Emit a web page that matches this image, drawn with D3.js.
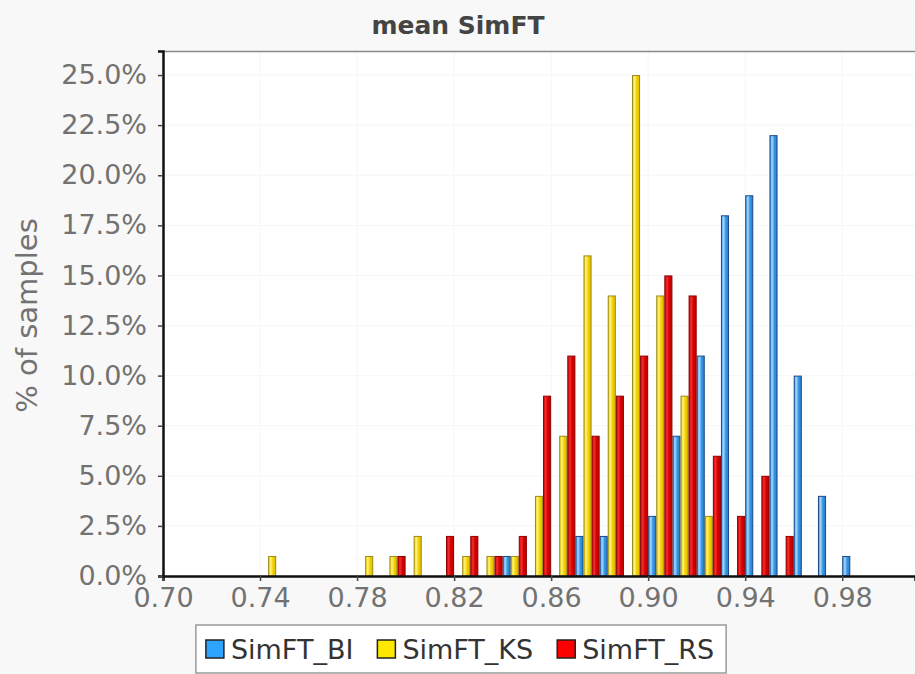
<!DOCTYPE html>
<html>
<head>
<meta charset="utf-8">
<script src="https://cdn.jsdelivr.net/npm/d3@7"></script>
<style>
  html, body { margin: 0; padding: 0; background: #f8f8f8; }
  svg { display: block; font-family: "DejaVu Sans", Verdana, sans-serif; }
</style>
</head>
<body>
<div id="chart"></div>
<script>
"use strict";

/* ── Data: lower edge of each 0.01 bin, and % of samples per series ── */
const binStarts = [0.74, 0.75, 0.76, 0.77, 0.78, 0.79, 0.80, 0.81, 0.82, 0.83,
                   0.84, 0.85, 0.86, 0.87, 0.88, 0.89, 0.90, 0.91, 0.92, 0.93,
                   0.94, 0.95, 0.96, 0.97, 0.98];
const binWidth  = 0.01;
const seriesNames = ["SimFT_BI", "SimFT_KS", "SimFT_RS"];
const valuesBI = [0, 0, 0, 0, 0, 0, 0, 0, 0, 0, 1, 0, 0, 2, 2, 0, 3, 7, 11, 18, 19, 22, 10, 4, 1];
const valuesKS = [1, 0, 0, 0, 1, 1, 2, 0, 1, 1, 1, 4, 7, 16, 14, 25, 14, 9, 3, 0, 0, 0, 0, 0, 0];
const valuesRS = [0, 0, 0, 0, 0, 1, 0, 2, 2, 1, 2, 9, 11, 7, 9, 11, 15, 14, 6, 3, 5, 2, 0, 0, 0];
const xTicks = [0.70, 0.74, 0.78, 0.82, 0.86, 0.90, 0.94, 0.98];
const yTicks = [0, 2.5, 5, 7.5, 10, 12.5, 15, 17.5, 20, 22.5, 25];

const W = 915, H = 674;
const plot = { left: 163, top: 51, right: 915, bottom: 576 };

const svg = d3.select("#chart").append("svg")
  .attr("width", W).attr("height", H);

/* ── Gradients, JFreeChart style ── */
const palette = {
  SimFT_BI: { base: "#3797e6", light: "#a6d8ff", dark: "#2a7cc8", stroke: "#1d4a84", swatch: "#2fa4ff" },
  SimFT_KS: { base: "#f2d200", light: "#fff27c", dark: "#e0bc00", stroke: "#9a8a1a", swatch: "#ffe800" },
  SimFT_RS: { base: "#d80000", light: "#ee3030", dark: "#c00000", stroke: "#8c0000", swatch: "#ff0000" }
};
const defs = svg.append("defs");
seriesNames.forEach((s, i) => {
  const c = palette[s];
  const g = defs.append("linearGradient").attr("id", "grad" + i)
    .attr("x1", 0).attr("x2", 1).attr("y1", 0).attr("y2", 0);
  g.append("stop").attr("offset", "0%").attr("stop-color", c.base);
  g.append("stop").attr("offset", "30%").attr("stop-color", c.light);
  g.append("stop").attr("offset", "60%").attr("stop-color", c.base);
  g.append("stop").attr("offset", "100%").attr("stop-color", c.dark);
});
defs.append("clipPath").attr("id", "plotClip")
  .append("rect").attr("x", plot.left).attr("y", plot.top)
  .attr("width", plot.right - plot.left).attr("height", plot.bottom - plot.top);

/* ── Scales ── */
const x = d3.scaleLinear().domain([0.70, 1.01]).range([plot.left, plot.right]);
const y = d3.scaleLinear().domain([0, 26.2]).range([plot.bottom, plot.top]);
const sub = d3.scaleBand().domain(seriesNames)
  .range([0, x(0.70 + binWidth) - x(0.70)]);

/* ── Plot background + faint grid ── */
svg.append("rect")
  .attr("x", plot.left).attr("y", plot.top)
  .attr("width", plot.right - plot.left).attr("height", plot.bottom - plot.top)
  .attr("fill", "#ffffff");

svg.append("g")
  .selectAll("line.vgrid").data(xTicks).join("line")
  .attr("x1", d => x(d)).attr("x2", d => x(d))
  .attr("y1", plot.top).attr("y2", plot.bottom)
  .attr("stroke", "#f6f6f6");
svg.append("g")
  .selectAll("line.hgrid").data(yTicks).join("line")
  .attr("x1", plot.left).attr("x2", plot.right)
  .attr("y1", d => y(d)).attr("y2", d => y(d))
  .attr("stroke", "#f6f6f6");

/* ── Bars ── */
const allValues = [valuesBI, valuesKS, valuesRS];
const bars = [];
seriesNames.forEach((s, si) => {
  allValues[si].forEach((v, bi) => {
    if (v > 0) bars.push({ series: s, si: si, start: binStarts[bi], value: v });
  });
});

svg.append("g").attr("clip-path", "url(#plotClip)")
  .selectAll("rect.bar").data(bars).join("rect")
  .attr("class", "bar")
  .attr("x", d => x(d.start) + sub(d.series) + 0.5)
  .attr("y", d => y(d.value) + 0.5)
  .attr("width", sub.bandwidth() - 1)
  .attr("height", d => y(0) - y(d.value) - 0.5)
  .attr("fill", d => "url(#grad" + d.si + ")")
  .attr("stroke", d => palette[d.series].stroke)
  .attr("stroke-width", 1);

/* ── Top border ── */
svg.append("line")
  .attr("x1", plot.left).attr("x2", plot.right)
  .attr("y1", plot.top + 0.5).attr("y2", plot.top + 0.5)
  .attr("stroke", "#8a8a8a").attr("stroke-width", 1.5);

/* ── X axis ── */
svg.append("g")
  .attr("transform", `translate(0,${plot.bottom})`)
  .call(d3.axisBottom(x).tickValues(xTicks).tickSize(5).tickPadding(7)
    .tickFormat(d3.format(".2f")))
  .call(g => {
    g.select(".domain").attr("stroke", "#111").attr("stroke-width", 2.5);
    g.selectAll(".tick line").attr("stroke", "#444").attr("stroke-width", 1.5);
    g.selectAll(".tick text").attr("fill", "#727272")
      .attr("font-size", "27px").attr("font-family", "DejaVu Sans");
  });

/* ── Y axis ── */
svg.append("g")
  .attr("transform", `translate(${plot.left},0)`)
  .call(d3.axisLeft(y).tickValues(yTicks).tickSize(5).tickPadding(11)
    .tickFormat(d => d.toFixed(1) + "%"))
  .call(g => {
    g.select(".domain").attr("stroke", "#111").attr("stroke-width", 2.5);
    g.selectAll(".tick line").attr("stroke", "#444").attr("stroke-width", 1.5);
    g.selectAll(".tick text").attr("fill", "#727272")
      .attr("font-size", "27px").attr("font-family", "DejaVu Sans");
  });

/* ── Titles ── */
svg.append("text")
  .attr("x", 458).attr("y", 34)
  .attr("text-anchor", "middle")
  .attr("font-size", "25px").attr("font-weight", "bold")
  .attr("fill", "#444")
  .text("mean SimFT");

svg.append("text")
  .attr("transform", `translate(37,${(plot.top + plot.bottom) / 2 + 2}) rotate(-90)`)
  .attr("text-anchor", "middle")
  .attr("font-size", "29px")
  .attr("fill", "#727272")
  .text("% of samples");

/* ── Legend ── */
const legend = svg.append("g");
const legendBox = legend.append("rect")
  .attr("fill", "#ffffff").attr("stroke", "#9a9a9a").attr("stroke-width", 1.5);
const itemGap = 24;
let lx = 0;
seriesNames.forEach(s => {
  const it = legend.append("g").attr("transform", `translate(${lx},0)`);
  it.append("rect").attr("x", 0).attr("y", -9).attr("width", 18).attr("height", 18)
    .attr("fill", palette[s].swatch).attr("stroke", "#222").attr("stroke-width", 1.5);
  const t = it.append("text").attr("x", 25).attr("y", 10)
    .attr("font-size", "27px").attr("fill", "#333").text(s);
  lx += 25 + t.node().getComputedTextLength() + itemGap;
});
const legendW = lx - itemGap;
const legendX = 460 - legendW / 2;
legend.attr("transform", `translate(${legendX},649)`);
legendBox.attr("x", -10).attr("y", -24).attr("width", legendW + 22).attr("height", 48);
</script>
</body>
</html>
